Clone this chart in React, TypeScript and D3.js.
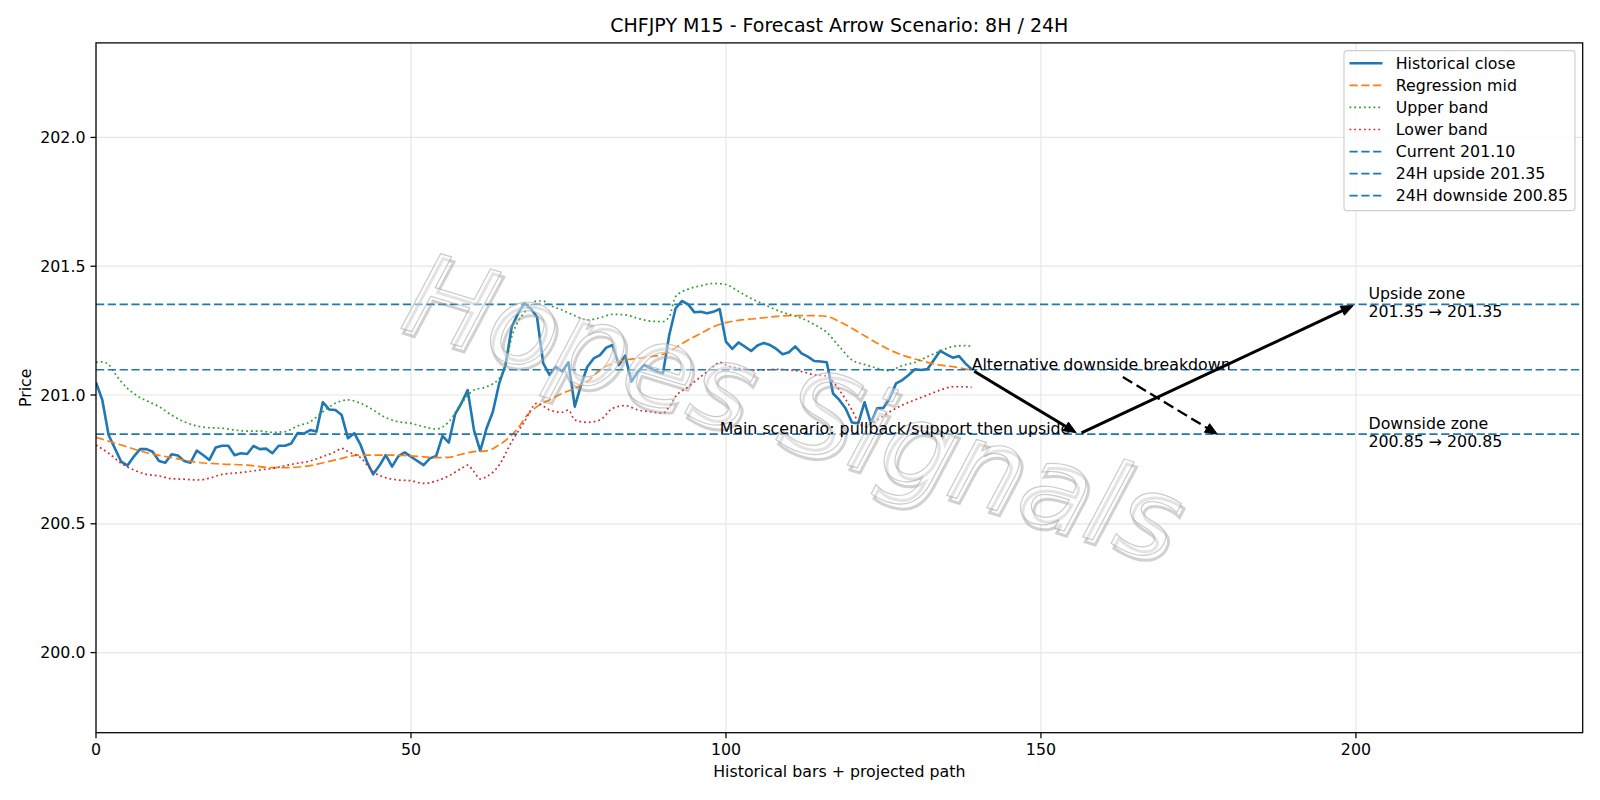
import React from "react";
import * as d3 from "d3";

// historical closes, one per bar (0..139)
const closes = [
  201.049, 200.981, 200.845, 200.793, 200.741, 200.726, 200.761, 200.79, 200.79, 200.78,
  200.744, 200.737, 200.77, 200.765, 200.744, 200.737, 200.784, 200.767, 200.748, 200.796,
  200.803, 200.803, 200.766, 200.774, 200.771, 200.802, 200.79, 200.792, 200.774, 200.803,
  200.803, 200.812, 200.852, 200.85, 200.864, 200.858, 200.972, 200.944, 200.942, 200.922,
  200.832, 200.852, 200.806, 200.741, 200.692, 200.726, 200.767, 200.722, 200.763, 200.777,
  200.761, 200.744, 200.728, 200.754, 200.763, 200.841, 200.815, 200.925, 200.968, 201.019,
  200.864, 200.783, 200.871, 200.935, 201.045, 201.116, 201.265, 201.317, 201.356, 201.336,
  201.304, 201.123, 201.078, 201.11, 201.091, 201.127, 200.955, 201.039, 201.11, 201.142,
  201.155, 201.184, 201.194, 201.116, 201.153, 201.052, 201.091, 201.116, 201.104, 201.091,
  201.084, 201.233, 201.336, 201.365, 201.352, 201.321, 201.323, 201.317, 201.323, 201.334,
  201.207, 201.179, 201.204, 201.188, 201.171, 201.192, 201.202, 201.194, 201.179, 201.158,
  201.166, 201.189, 201.162, 201.149, 201.132, 201.13, 201.127, 201.006, 200.981, 200.948,
  200.893, 200.89, 200.972, 200.89, 200.948, 200.95, 200.987, 201.045, 201.058, 201.078,
  201.1, 201.097, 201.101, 201.136, 201.171, 201.158, 201.145, 201.151, 201.123, 201.1,
];

// [bar, price] samples
const midLine: [number, number][] = [
  [0, 200.836], [4, 200.806], [8, 200.776], [12, 200.757], [16, 200.739], [20, 200.732],
  [24, 200.728], [28, 200.718], [30, 200.718], [34, 200.726], [38, 200.748], [42, 200.767],
  [46, 200.767], [50, 200.764], [54, 200.757], [56, 200.758], [58, 200.77], [60, 200.78],
  [62, 200.783], [64, 200.806], [66, 200.845], [67, 200.871], [68, 200.908], [70, 200.955],
  [72, 200.981], [74, 201.006], [76, 201.026], [78, 201.052], [80, 201.097], [82, 201.123],
  [84, 201.136], [86, 201.142], [88, 201.149], [90, 201.158], [92, 201.184], [94, 201.214],
  [96, 201.239], [98, 201.265], [100, 201.281], [102, 201.29], [104, 201.295], [106, 201.3],
  [108, 201.305], [110, 201.308], [112, 201.308], [114, 201.308], [116, 201.305], [118, 201.285],
  [120, 201.259], [122, 201.23], [124, 201.201], [126, 201.175], [128, 201.155], [130, 201.14],
  [132, 201.127], [134, 201.116], [136, 201.11], [138, 201.101], [139, 201.097],
];

const upperBand: [number, number][] = [
  [0, 201.127], [1, 201.129], [2, 201.119], [3, 201.084], [4, 201.052], [5, 201.026],
  [6, 201.006], [7, 200.99], [8, 200.978], [10, 200.955], [12, 200.922], [14, 200.896],
  [16, 200.88], [18, 200.873], [20, 200.871], [22, 200.864], [24, 200.86], [26, 200.86],
  [28, 200.855], [30, 200.858], [32, 200.88], [34, 200.896], [36, 200.935], [38, 200.968],
  [40, 200.981], [42, 200.968], [44, 200.942], [46, 200.912], [48, 200.896], [50, 200.89],
  [52, 200.877], [54, 200.868], [56, 200.896], [58, 200.968], [60, 201.019], [62, 201.032],
  [64, 201.065], [65, 201.116], [66, 201.226], [67, 201.285], [68, 201.32], [69, 201.349],
  [70, 201.365], [71, 201.365], [72, 201.349], [74, 201.33], [76, 201.308], [78, 201.291],
  [80, 201.3], [82, 201.313], [84, 201.311], [86, 201.298], [88, 201.287], [90, 201.285],
  [91, 201.304], [92, 201.382], [94, 201.411], [96, 201.424], [98, 201.433], [100, 201.429],
  [102, 201.402], [104, 201.375], [106, 201.352], [108, 201.33], [110, 201.313], [112, 201.298],
  [114, 201.274], [116, 201.243], [118, 201.188], [120, 201.136], [122, 201.119], [124, 201.104],
  [126, 201.094], [127, 201.104], [128, 201.114], [130, 201.127], [132, 201.149], [134, 201.171],
  [136, 201.188], [138, 201.192], [139, 201.189],
];

const lowerBand: [number, number][] = [
  [0, 200.806], [2, 200.774], [4, 200.735], [6, 200.709], [8, 200.692], [10, 200.686],
  [12, 200.675], [14, 200.673], [16, 200.67], [18, 200.677], [20, 200.692], [22, 200.697],
  [24, 200.702], [26, 200.709], [28, 200.715], [30, 200.726], [32, 200.735], [34, 200.744],
  [36, 200.761], [38, 200.78], [39, 200.793], [40, 200.78], [42, 200.757], [44, 200.702],
  [46, 200.679], [48, 200.67], [50, 200.667], [52, 200.657], [54, 200.666], [56, 200.686],
  [58, 200.715], [59, 200.728], [60, 200.702], [61, 200.674], [62, 200.683], [64, 200.728],
  [66, 200.819], [67, 200.858], [68, 200.896], [70, 200.968], [72, 200.942], [74, 200.933],
  [75, 200.942], [76, 200.903], [78, 200.894], [80, 200.903], [82, 200.948], [84, 200.959],
  [86, 200.942], [88, 200.935], [90, 200.929], [91, 200.955], [92, 200.994], [94, 201.032],
  [96, 201.071], [98, 201.11], [99, 201.127], [100, 201.116], [102, 201.104], [104, 201.097],
  [106, 201.097], [108, 201.1], [110, 201.097], [112, 201.091], [114, 201.078], [116, 201.074],
  [118, 201.019], [120, 200.942], [121, 200.896], [122, 200.877], [124, 200.903], [126, 200.935],
  [128, 200.961], [130, 200.981], [132, 201.0], [134, 201.019], [136, 201.032], [138, 201.032],
  [139, 201.03],
];

const levelValues = [201.098, 201.352, 200.848];
const levelLabels = ["Current 201.10", "24H upside 201.35", "24H downside 200.85"];

// scenario arrows [fromBar, fromPrice, toBar, toPrice]
const mainArrows: [number, number, number, number][] = [
  [139, 201.098, 156, 200.848],
  [156, 200.848, 200, 201.352],
];
const altArrow: [number, number, number, number] = [163, 201.07, 178, 200.848];

const xTicks = [0, 50, 100, 150, 200];
const yTicks = [200.0, 200.5, 201.0, 201.5, 202.0];

const FONT = "DejaVu Sans, sans-serif";
const FS = 15.8;

function arrowParts(x0: number, y0: number, x1: number, y1: number, shrink = 3) {
  const dx = x1 - x0;
  const dy = y1 - y0;
  const len = Math.hypot(dx, dy);
  const ux = dx / len;
  const uy = dy / len;
  const sx = x0 + ux * shrink;
  const sy = y0 + uy * shrink;
  const tx = x1 - ux * shrink;
  const ty = y1 - uy * shrink;
  const hl = 12;
  const hw = 5;
  const bx = tx - ux * hl;
  const by = ty - uy * hl;
  const head = `M${tx},${ty} L${bx - uy * hw},${by + ux * hw} L${bx + uy * hw},${by - ux * hw} Z`;
  return { sx, sy, ex: tx - ux * 9, ey: ty - uy * 9, head };
}

export default function App() {
  const left = 96;
  const right = 1582.7;
  const top = 42.9;
  const bottom = 732.7;

  const x = d3.scaleLinear().domain([0, 236]).range([left, right]);
  const y = d3.scaleLinear().domain([199.689, 202.367]).range([bottom, top]);

  const closeLine = d3
    .line<number>()
    .x((_, i) => x(i))
    .y((d) => y(d));
  const pairLine = d3
    .line<[number, number]>()
    .x((d) => x(d[0]))
    .y((d) => y(d[1]))
    .curve(d3.curveMonotoneX);

  const blue = "#1f77b4";
  const dashed = "8.2,3.6";
  const dotted = "1.8,3";

  const legendItems = [
    { label: "Historical close", color: blue, dash: "", w: 2.6 },
    { label: "Regression mid", color: "#ff7f0e", dash: dashed, w: 1.7 },
    { label: "Upper band", color: "#2ca02c", dash: dotted, w: 1.7 },
    { label: "Lower band", color: "#d62728", dash: dotted, w: 1.7 },
    ...levelLabels.map((l) => ({ label: l, color: blue, dash: dashed, w: 1.7 })),
  ];

  const wm = "Hopes Signals";

  return (
    <svg
      width={1600}
      height={800}
      style={{ position: "absolute", left: 0, top: 0, background: "#fff" }}
      fontFamily={FONT}
    >
      <rect x={0} y={0} width={1600} height={800} fill="#fff" />
      <defs>
        <clipPath id="plot">
          <rect x={left} y={top} width={right - left} height={bottom - top} />
        </clipPath>
      </defs>

      {/* grid */}
      {xTicks.map((t) => (
        <line key={"gx" + t} x1={x(t)} x2={x(t)} y1={top} y2={bottom} stroke="#e6e6e6" strokeWidth={1.2} />
      ))}
      {yTicks.map((t) => (
        <line key={"gy" + t} x1={left} x2={right} y1={y(t)} y2={y(t)} stroke="#e6e6e6" strokeWidth={1.2} />
      ))}

      <g clipPath="url(#plot)">
        <path d={closeLine(closes) ?? ""} fill="none" stroke={blue} strokeWidth={2.6} strokeLinejoin="round" />
        <path d={pairLine(midLine) ?? ""} fill="none" stroke="#ff7f0e" strokeWidth={1.7} strokeDasharray={dashed} />
        <path d={pairLine(upperBand) ?? ""} fill="none" stroke="#2ca02c" strokeWidth={1.7} strokeDasharray={dotted} />
        <path d={pairLine(lowerBand) ?? ""} fill="none" stroke="#d62728" strokeWidth={1.7} strokeDasharray={dotted} />
        {levelValues.map((v) => (
          <line key={"lv" + v} x1={left} x2={right} y1={y(v)} y2={y(v)} stroke={blue} strokeWidth={1.7} strokeDasharray={dashed} />
        ))}
      </g>

      {/* watermark, on top of the lines */}
      <g clipPath="url(#plot)">
        <g transform="translate(782,445) rotate(17)">
          <text
            x={4}
            y={4}
            textAnchor="middle"
            fontSize={114}
            fontStyle="italic"
            fill="none"
            stroke="#9a9a9a"
            strokeOpacity={0.45}
            strokeWidth={3}
          >
            {wm}
          </text>
          <text
            x={0}
            y={0}
            textAnchor="middle"
            fontSize={114}
            fontStyle="italic"
            fill="#ffffff"
            fillOpacity={0.4}
            stroke="#a8a8a8"
            strokeOpacity={0.6}
            strokeWidth={1.2}
          >
            {wm}
          </text>
        </g>
      </g>

      <g clipPath="url(#plot)">
        {mainArrows.map((a, i) => {
          const p = arrowParts(x(a[0]), y(a[1]), x(a[2]), y(a[3]));
          return (
            <g key={"ma" + i}>
              <line x1={p.sx} y1={p.sy} x2={p.ex} y2={p.ey} stroke="#000" strokeWidth={3} />
              <path d={p.head} fill="#000" stroke="#000" strokeWidth={1} />
            </g>
          );
        })}
        {(() => {
          const p = arrowParts(x(altArrow[0]), y(altArrow[1]), x(altArrow[2]), y(altArrow[3]), 0);
          return (
            <g>
              <line x1={p.sx} y1={p.sy} x2={p.ex} y2={p.ey} stroke="#000" strokeWidth={2.3} strokeDasharray="11,5" />
              <path d={p.head} fill="#000" stroke="#000" strokeWidth={1} />
            </g>
          );
        })()}

        <text x={x(139)} y={y(201.098)} fontSize={FS} fill="#000">
          Alternative downside breakdown
        </text>
        <text x={x(99)} y={y(200.848)} fontSize={FS} fill="#000">
          Main scenario: pullback/support then upside
        </text>
        <text x={x(202)} y={y(201.352) - 5} fontSize={FS} fill="#000">
          Upside zone
        </text>
        <text x={x(202)} y={y(201.352) + 13} fontSize={FS} fill="#000">
          201.35 → 201.35
        </text>
        <text x={x(202)} y={y(200.848) - 5} fontSize={FS} fill="#000">
          Downside zone
        </text>
        <text x={x(202)} y={y(200.848) + 13} fontSize={FS} fill="#000">
          200.85 → 200.85
        </text>
      </g>

      {/* frame */}
      <rect x={left} y={top} width={right - left} height={bottom - top} fill="none" stroke="#000" strokeWidth={1.27} />

      {/* x axis */}
      {xTicks.map((t) => (
        <g key={"xt" + t}>
          <line x1={x(t)} x2={x(t)} y1={bottom} y2={bottom + 5.5} stroke="#000" strokeWidth={1.27} />
          <text x={x(t)} y={bottom + 10.5} dy="0.76em" textAnchor="middle" fontSize={FS} fill="#000">
            {t}
          </text>
        </g>
      ))}
      {/* y axis */}
      {yTicks.map((t) => (
        <g key={"yt" + t}>
          <line x1={left - 5.5} x2={left} y1={y(t)} y2={y(t)} stroke="#000" strokeWidth={1.27} />
          <text x={left - 10.5} y={y(t)} dy="0.35em" textAnchor="end" fontSize={FS} fill="#000">
            {t.toFixed(1)}
          </text>
        </g>
      ))}

      <text x={(left + right) / 2} y={777} textAnchor="middle" fontSize={FS} fill="#000">
        Historical bars + projected path
      </text>
      <text
        transform={`translate(31,${(top + bottom) / 2}) rotate(-90)`}
        textAnchor="middle"
        fontSize={FS}
        fill="#000"
      >
        Price
      </text>
      <text x={(left + right) / 2} y={31.5} textAnchor="middle" fontSize={19} fill="#000">
        CHFJPY M15 - Forecast Arrow Scenario: 8H / 24H
      </text>

      {/* legend */}
      <g>
        <rect x={1344} y={50.7} width={231} height={160} rx={3} fill="#fff" fillOpacity={0.8} stroke="#d0d0d0" strokeWidth={1.2} />
        {legendItems.map((d, i) => {
          const cy = 63.3 + i * 22.07;
          return (
            <g key={"lg" + i}>
              <line x1={1349.5} x2={1382.5} y1={cy} y2={cy} stroke={d.color} strokeWidth={d.w} strokeDasharray={d.dash} />
              <text x={1395.7} y={cy} dy="0.35em" fontSize={FS} fill="#000">
                {d.label}
              </text>
            </g>
          );
        })}
      </g>
    </svg>
  );
}
